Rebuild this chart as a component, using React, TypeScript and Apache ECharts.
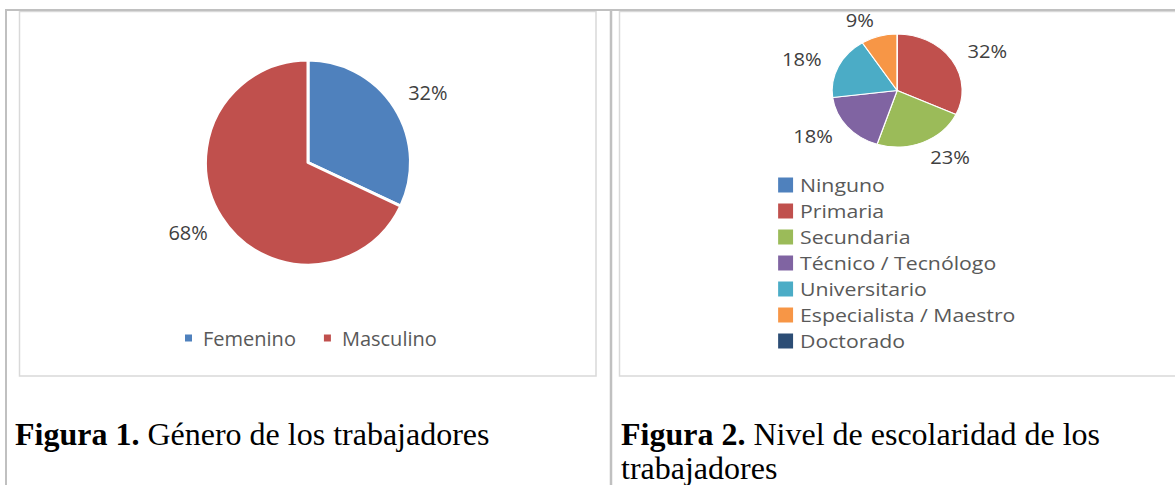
import React, { useEffect, useRef } from 'react';
import * as echarts from 'echarts';

const genderCategories = ['Femenino', 'Masculino'];
const genderValues = [32, 68];
const genderColors = ['#4F81BD', '#C0504D'];

const educationCategories = [
  'Ninguno',
  'Primaria',
  'Secundaria',
  'Técnico / Tecnólogo',
  'Universitario',
  'Especialista / Maestro',
  'Doctorado',
];
const educationValues = [0, 32, 23, 18, 18, 9, 0];
const educationColors = ['#4F81BD', '#C0504D', '#9BBB59', '#8064A2', '#4BACC6', '#F79646', '#2C4D75'];

const caption1Bold = 'Figura 1.';
const caption1Text = 'Género de los trabajadores';
const caption2Bold = 'Figura 2.';
const caption2Text = 'Nivel de escolaridad de los\ntrabajadores';

const SANS = '"Open Sans", "Noto Sans", sans-serif';
const SERIF = '"Liberation Serif", "Times New Roman", serif';
const TABLE_LINE = '#c0c0c0';
const BOX_LINE = '#d9d9d9';

function pctLabel(p: any) {
  return p.value ? Math.round(p.percent) + '%' : '';
}

export default function App() {
  const mainRef = useRef<HTMLDivElement>(null);
  const rightRef = useRef<HTMLDivElement>(null);

  useEffect(() => {
    const main = echarts.init(mainRef.current!, undefined, { renderer: 'svg' });
    const right = echarts.init(rightRef.current!, undefined, { renderer: 'svg' });

    const captionRich = {
      b: { fontFamily: SERIF, fontSize: 32, fontWeight: 'bold', lineHeight: 34, fill: '#000' },
    };

    main.setOption({
      animation: false,
      backgroundColor: '#ffffff',
      legend: {
        data: genderCategories,
        orient: 'horizontal',
        left: 178,
        top: 323,
        icon: 'rect',
        itemWidth: 9,
        itemHeight: 9,
        itemGap: 26,
        selectedMode: false,
        textStyle: { fontFamily: SANS, fontSize: 20, color: '#595959', lineHeight: 20, padding: [0, 0, 0, 5] },
      },
      graphic: [
        { type: 'rect', z: 0, shape: { x: 19.5, y: 11.5, width: 576.5, height: 364.5 }, style: { fill: '#fff', stroke: BOX_LINE, lineWidth: 1.5 } },
        { type: 'rect', z: 0, shape: { x: 619.5, y: 11.5, width: 600, height: 364.5 }, style: { fill: '#fff', stroke: BOX_LINE, lineWidth: 1.5 } },
        { type: 'line', z: 1, shape: { x1: 5, y1: 10, x2: 1175, y2: 10 }, style: { stroke: TABLE_LINE, lineWidth: 2 } },
        { type: 'line', z: 1, shape: { x1: 6, y1: 9, x2: 6, y2: 485 }, style: { stroke: TABLE_LINE, lineWidth: 2 } },
        { type: 'line', z: 1, shape: { x1: 611, y1: 9, x2: 611, y2: 485 }, style: { stroke: TABLE_LINE, lineWidth: 2.5 } },
        {
          type: 'text',
          z: 1,
          x: 15,
          y: 417,
          style: {
            text: '{b|' + caption1Bold + '} ' + caption1Text,
            rich: captionRich,
            fontFamily: SERIF,
            fontSize: 32,
            lineHeight: 34,
            fill: '#000',
            verticalAlign: 'top',
            align: 'left',
          },
        },
        {
          type: 'text',
          z: 1,
          x: 621,
          y: 417,
          style: {
            text: '{b|' + caption2Bold + '} ' + caption2Text,
            rich: captionRich,
            fontFamily: SERIF,
            fontSize: 32,
            lineHeight: 34,
            fill: '#000',
            verticalAlign: 'top',
            align: 'left',
          },
        },
      ],
      series: [
        {
          type: 'pie',
          z: 5,
          center: [308, 162.5],
          radius: 102.5,
          startAngle: 90,
          clockwise: true,
          avoidLabelOverlap: false,
          silent: true,
          data: genderCategories.map((n, i) => ({ name: n, value: genderValues[i], itemStyle: { color: genderColors[i] } })),
          itemStyle: { borderColor: '#ffffff', borderWidth: 3 },
          label: {
            show: true,
            position: 'outside',
            formatter: pctLabel,
            fontFamily: SANS,
            fontSize: 20,
            color: '#404040',
            distanceToLabelLine: -10,
          },
          labelLine: { show: false, length: 28, length2: 0 },
          emphasis: { disabled: true },
        },
      ],
    });

    right.setOption({
      animation: false,
      legend: {
        data: educationCategories,
        orient: 'vertical',
        left: 130.5,
        top: 170.5,
        icon: 'rect',
        itemWidth: 15,
        itemHeight: 17,
        itemGap: 7,
        selectedMode: false,
        textStyle: { fontFamily: SANS, fontSize: 18.5, color: '#595959', lineHeight: 17 },
      },
      series: [
        {
          type: 'pie',
          center: [241, 90.5],
          radius: 56.5,
          startAngle: 90,
          clockwise: true,
          avoidLabelOverlap: false,
          silent: true,
          data: educationCategories.map((n, i) => ({ name: n, value: educationValues[i], itemStyle: { color: educationColors[i] } })),
          itemStyle: { borderColor: '#ffffff', borderWidth: 1 },
          label: {
            show: true,
            position: 'outside',
            formatter: pctLabel,
            fontFamily: SANS,
            fontSize: 17.5,
            color: '#404040',
            distanceToLabelLine: 0,
          },
          labelLine: { show: false, length: 16, length2: 0 },
          emphasis: { disabled: true },
        },
      ],
    });

    return () => {
      main.dispose();
      right.dispose();
    };
  }, []);

  return (
    <div style={{ position: 'absolute', left: 0, top: 0, width: 1175, height: 485, overflow: 'hidden', background: '#fff' }}>
      <div ref={mainRef} style={{ position: 'absolute', left: 0, top: 0, width: 1175, height: 485 }} />
      <div
        ref={rightRef}
        style={{
          position: 'absolute',
          left: 620,
          top: 0,
          width: 483,
          height: 376,
          transform: 'scaleX(1.15)',
          transformOrigin: '0 0',
        }}
      />
    </div>
  );
}
